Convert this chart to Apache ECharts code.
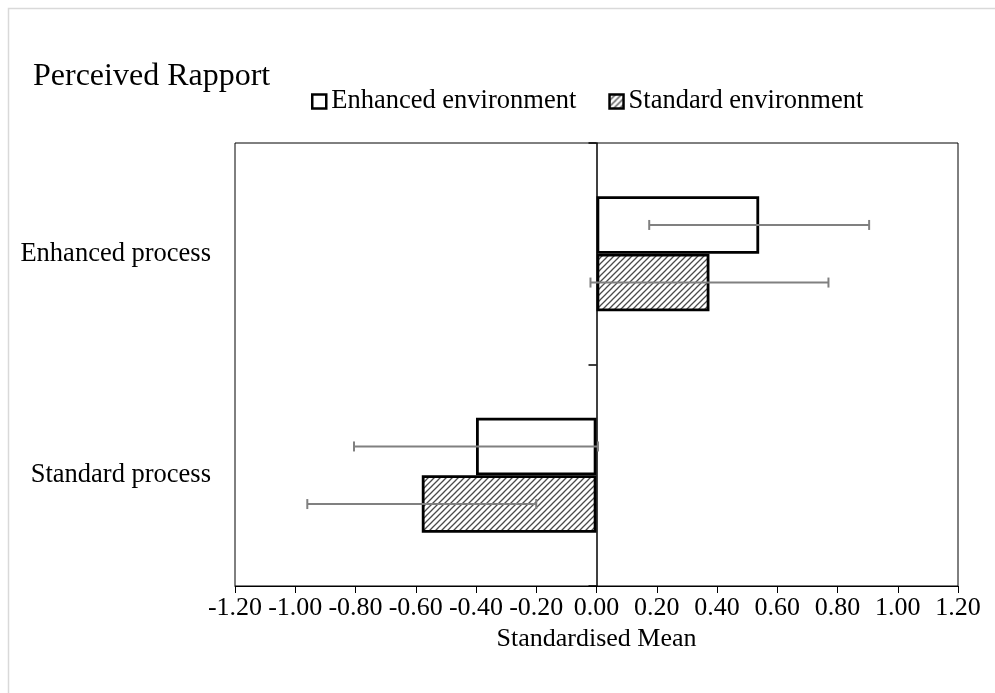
<!DOCTYPE html>
<html><head><meta charset="utf-8">
<script src="https://cdn.jsdelivr.net/npm/echarts@6/dist/echarts.min.js"></script>
<style>html,body{margin:0;padding:0;background:#fff}#c{width:995px;height:693px}</style>
</head><body><div id="c"></div>
<script>
const categories = ['Enhanced process', 'Standard process'];
const seriesNames = ['Enhanced environment', 'Standard environment'];
const enhancedEnvMeans = [0.54, -0.40];
const standardEnvMeans = [0.375, -0.58];
const enhancedEnvErrors = [0.365, 0.405];
const standardEnvErrors = [0.395, 0.38];
const xMin = -1.2, xMax = 1.2, xInterval = 0.2;
const titleText = 'Perceived Rapport';
const xAxisName = 'Standardised Mean';

const FONT = 'Liberation Serif';

function hatchCanvas() {
  const c = document.createElement('canvas');
  c.width = 6; c.height = 6;
  const g = c.getContext('2d');
  g.fillStyle = '#fff'; g.fillRect(0, 0, 6, 6);
  g.strokeStyle = '#4a4a4a'; g.lineWidth = 1.3;
  g.beginPath();
  g.moveTo(-1, 7); g.lineTo(7, -1);
  g.moveTo(-1, 1); g.lineTo(1, -1);
  g.moveTo(5, 7); g.lineTo(7, 5);
  g.stroke();
  return c;
}
const hatch = { image: hatchCanvas(), repeat: 'repeat' };

function errData(means, errs) {
  return means.map((m, i) => [i, m - errs[i], m + errs[i]]);
}

function errorSeries(means, errs, sIdx) {
  return {
    type: 'custom',
    silent: true,
    z: 5,
    data: errData(means, errs),
    encode: { x: [1, 2], y: 0 },
    renderItem: function (params, api) {
      const cat = api.value(0), lo = api.value(1), hi = api.value(2);
      const band = api.size([0, 1])[1];
      const off = (sIdx === 0 ? -1 : 1) * band * 0.13;
      const a = api.coord([lo, cat]);
      const b = api.coord([hi, cat]);
      const y = a[1] + off;
      const cap = 5;
      const st = { stroke: '#808080', lineWidth: 2 };
      return {
        type: 'group',
        children: [
          { type: 'line', shape: { x1: a[0], y1: y, x2: b[0], y2: y }, style: st },
          { type: 'line', shape: { x1: a[0], y1: y - cap, x2: a[0], y2: y + cap }, style: st },
          { type: 'line', shape: { x1: b[0], y1: y - cap, x2: b[0], y2: y + cap }, style: st }
        ]
      };
    }
  };
}

const chart = echarts.init(document.getElementById('c'));
chart.setOption({
  animation: false,
  backgroundColor: '#fff',
  textStyle: { fontFamily: FONT },
  graphic: [{
    type: 'rect', left: 6, top: 6, z: -10,
    shape: { width: 1000, height: 700 },
    style: { fill: 'none', stroke: '#d9d9d9', lineWidth: 1.5 }
  }],
  title: {
    text: titleText, left: 28, top: 56,
    textStyle: { fontFamily: FONT, fontSize: 32, fontWeight: 'normal', color: '#000' }
  },
  legend: {
    left: 306, top: 83,
    itemWidth: 14, itemHeight: 14, itemGap: 32,
    icon: 'rect',
    textStyle: { fontFamily: FONT, fontSize: 26.5, color: '#000' },
    data: [
      { name: seriesNames[0], itemStyle: { color: '#fff', borderColor: '#000', borderWidth: 2.5 } },
      { name: seriesNames[1], itemStyle: { color: hatch, borderColor: '#000', borderWidth: 2.5 } }
    ]
  },
  grid: {
    left: 235, right: 37, top: 143, bottom: 107,
    show: true, borderColor: '#000', borderWidth: 1, containLabel: false
  },
  xAxis: {
    type: 'value', min: xMin, max: xMax, interval: xInterval,
    axisLine: { show: true, onZero: false, lineStyle: { color: '#000', width: 1 } },
    axisTick: { show: true, length: 7, lineStyle: { color: '#000' } },
    splitLine: { show: false },
    axisLabel: {
      margin: 9, color: '#000', fontFamily: FONT, fontSize: 26,
      formatter: v => v.toFixed(2)
    },
    name: xAxisName, nameLocation: 'middle', nameGap: 31,
    nameTextStyle: { fontFamily: FONT, fontSize: 26, color: '#000' }
  },
  yAxis: [{
    type: 'category', data: categories, inverse: true,
    axisLine: { show: false, onZero: false },
    axisTick: { show: false },
    axisLabel: { margin: 24, color: '#000', fontFamily: FONT, fontSize: 26.5 }
  }, {
    type: 'category', data: categories, inverse: true, position: 'left',
    axisLine: { show: true, onZero: true, lineStyle: { color: '#000', width: 1.5 } },
    axisTick: { show: true, length: 8, lineStyle: { color: '#000', width: 1.5 } },
    axisLabel: { show: false }
  }],
  series: [
    {
      type: 'bar', name: seriesNames[0], data: enhancedEnvMeans,
      barWidth: '26%', barGap: '0%',
      itemStyle: { color: '#fff', borderColor: '#000', borderWidth: 2.8 }
    },
    {
      type: 'bar', name: seriesNames[1], data: standardEnvMeans,
      barWidth: '26%', barGap: '0%',
      itemStyle: { color: hatch, borderColor: '#000', borderWidth: 2.8 }
    },
    errorSeries(enhancedEnvMeans, enhancedEnvErrors, 0),
    errorSeries(standardEnvMeans, standardEnvErrors, 1)
  ]
});
</script></body></html>
